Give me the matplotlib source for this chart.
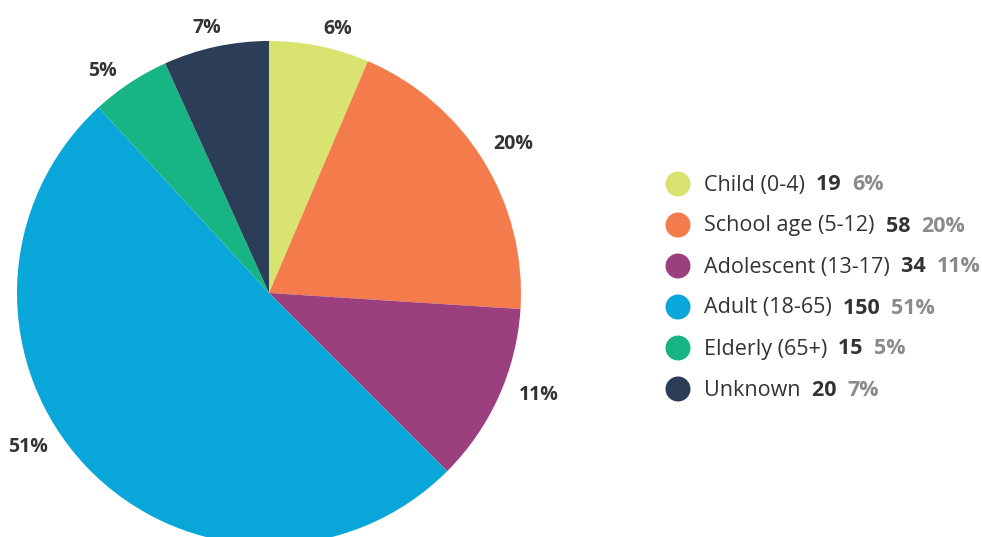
import numpy as np
import matplotlib
matplotlib.use("Agg")
import matplotlib.pyplot as plt

categories = ["Child (0-4)", "School age (5-12)", "Adolescent (13-17)",
              "Adult (18-65)", "Elderly (65+)", "Unknown"]
counts = [19, 58, 34, 150, 15, 20]
pct_labels = ["6%", "20%", "11%", "51%", "5%", "7%"]
colors = ["#d9e36f", "#f47c4c", "#9b3f7e", "#08a6d9", "#18b584", "#2c3e57"]

FONT = "Open Sans"
W, H = 982, 537
fig = plt.figure(figsize=(W / 100, H / 100), dpi=100)

cx, cy, R = 269, 537 - 293, 252
ax = fig.add_axes([(cx - R) / W, (cy - R) / H, 2 * R / W, 2 * R / H])

wedges, _ = ax.pie(counts, colors=colors, startangle=90, counterclock=False,
                   radius=1, wedgeprops=dict(linewidth=0))
ax.set_xlim(-1, 1)
ax.set_ylim(-1, 1)
ax.axis("off")
for w in wedges:
    w.set_clip_on(False)

# label angle nudges (degrees, clockwise) to mimic the reference placement
nudge = [0, -2, -2, 9, -1, 2]
for w, lab, nd in zip(wedges, pct_labels, nudge):
    ang = np.deg2rad((w.theta1 + w.theta2) / 2 - nd)
    x, y = np.cos(ang), np.sin(ang)
    r = 1.07
    ha = "left" if x > 0 else "right"
    t = ax.text(r * x, r * y, lab, ha=ha, va="center", fontsize=14,
                fontweight="bold", color="#333333", family=FONT)
    t.set_clip_on(False)

# legend
leg_y0 = 537 - 185
step = 41
for i, (cat, n, p, c) in enumerate(zip(categories, counts, pct_labels, colors)):
    yy = (leg_y0 - i * step) / H
    fig.patches.append(matplotlib.patches.Ellipse(
        (678 / W, (leg_y0 + 1 - i * step) / H), 25 / W, 25 / H,
        transform=fig.transFigure, facecolor=c, edgecolor="none"))
    t1 = fig.text(704 / W, yy, cat + "  ", ha="left", va="center",
                  fontsize=15.5, color="#333333", family=FONT)
    a1 = plt.annotate(str(n) + "  ", xycoords=t1, xy=(1, 0.5), va="center",
                      ha="left", fontsize=15.5, fontweight="bold",
                      color="#333333", family=FONT, annotation_clip=False)
    plt.annotate(p, xycoords=a1, xy=(1, 0.5), va="center", ha="left",
                 fontsize=15.5, fontweight="bold", color="#8a8a8a",
                 family=FONT, annotation_clip=False)

fig.savefig("out.png", dpi=100)
